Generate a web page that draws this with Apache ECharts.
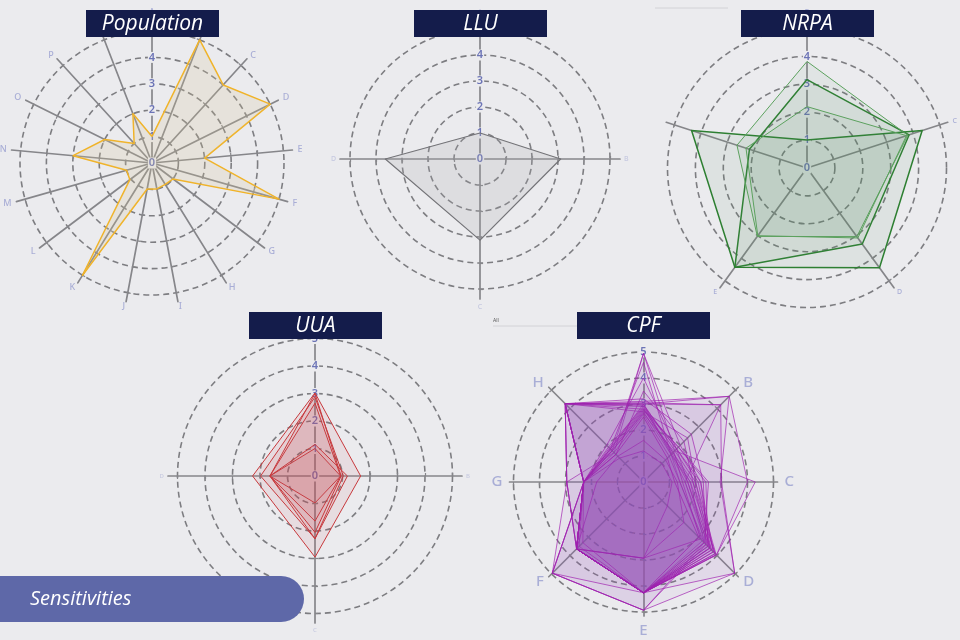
<!DOCTYPE html>
<html><head><meta charset="utf-8">
<script src="https://cdn.jsdelivr.net/npm/echarts@6/dist/echarts.min.js"></script>
<style>html,body{margin:0;padding:0;background:#ebebee;}#c{width:960px;height:640px;}</style>
</head><body><div id="c"></div><script>
// ---------- data ----------
const tickLabels = ['0', '1', '2', '3', '4', '5'];
const titles = ['Population', 'LLU', 'NRPA', 'UUA', 'CPF'];

const popAxes = ['A','B','C','D','E','F','G','H','I','J','K','L','M','N','O','P','Q'];
const popValues = [1, 5, 4, 5, 2, 5, 1, 0.95, 1, 1, 5, 1.05, 1, 3, 2, 1, 2];

const lluAxes = ['A', 'B', 'C', 'D'];
const lluValues = [1.0, 3.1, 3.12, 3.64];

const nrpaAxes = ['B', 'C', 'D', 'E', ''];
const nrpaDark1 = [3.17, 3.85, 3.37, 4.4, 2.17];
const nrpaDark2 = [1.0, 4.34, 4.42, 4.4, 4.35];
const nrpaLight1 = [3.82, 3.8, 3.04, 3.03, 2.64];
const nrpaLight2 = [2.2, 3.75, 3.1, 3.0, 2.3];

const uuaAxes = ['A', 'B', 'C', 'D'];
const uua1 = [3.02, 1.66, 2.95, 2.27];
const uua2 = [1.0, 0.93, 0.98, 1.64];
const uua3 = [2.87, 1.03, 2.28, 1.98];
const uua4 = [2.65, 0.93, 1.64, 1.64];
const uua5 = [1.15, 1.18, 2.28, 1.64];
const uua6 = [3.0, 0.95, 2.05, 1.64];

const cpfAxes = ['A', 'B', 'C', 'D', 'E', 'F', 'G', 'H'];
const cpfRuns = [
  [3.0, 4.66, 2.95, 4.96, 4.93, 4.96, 2.95, 4.26],
  [4.95, 1.7, 4.3, 3.97, 4.26, 3.64, 2.3, 1.7],
  [3.0, 4.2, 1.6, 3.4, 4.93, 4.96, 2.3, 4.26],
  [2.9, 1.6, 1.8, 3.9, 4.26, 3.64, 2.3, 4.26],
  [4.95, 2.0, 2.2, 3.6, 4.26, 3.64, 2.95, 1.6],
  [3.1, 4.66, 4.0, 3.97, 4.26, 3.64, 2.3, 4.26],
  [2.8, 1.9, 2.5, 3.3, 4.93, 4.96, 2.3, 4.26],
  [3.0, 1.5, 1.4, 3.2, 4.26, 3.64, 2.3, 4.26],
  [2.7, 2.4, 2.0, 3.7, 4.26, 3.64, 2.95, 4.26],
  [3.05, 4.2, 3.0, 4.96, 4.26, 3.64, 2.3, 4.26],
  [2.95, 1.8, 1.7, 3.5, 4.26, 4.96, 2.3, 4.26],
  [4.6, 1.5, 1.8, 3.3, 4.26, 3.64, 2.3, 1.8],
  [2.8, 1.6, 1.9, 3.9, 4.26, 3.64, 2.3, 1.8],
  [2.7, 1.5, 1.6, 3.6, 4.26, 3.64, 2.3, 1.7],
  [2.9, 1.8, 2.2, 3.8, 4.26, 3.64, 2.3, 1.9],
  [2.6, 1.4, 1.4, 3.3, 4.26, 3.5, 2.3, 1.6],
  [3.0, 1.7, 2.0, 3.95, 4.26, 3.64, 2.3, 1.8],
  [2.75, 1.9, 2.4, 3.5, 4.26, 3.64, 2.3, 1.75],
  [2.85, 1.55, 1.7, 3.7, 4.26, 3.3, 2.3, 1.85],
  [2.65, 1.65, 1.5, 3.1, 2.93, 3.64, 2.3, 1.7],
  [1.2, 1.0, 1.1, 1.3, 2.93, 3.64, 2.3, 1.3],
  [1.6, 1.2, 1.3, 2.2, 2.93, 3.64, 1.8, 1.4],
  [3.5, 2.2, 1.9, 3.6, 4.26, 3.64, 2.3, 1.5],
  [4.0, 1.8, 2.1, 3.8, 4.26, 3.64, 2.3, 2.0],
  [3.2, 2.6, 2.3, 3.4, 4.26, 3.64, 2.95, 4.26],
  [2.5, 1.3, 1.2, 3.0, 4.26, 3.64, 2.3, 1.5]
];

// ---------- helpers ----------
const BG = '#ebebee';
// ECharts lays indicators counter-clockwise; the reference runs clockwise from the top.
const cw = arr => [arr[0]].concat(arr.slice(1).reverse());

const radars = [];
const series = [];

function addChart(names, center, rData, rSpoke, nameSize, nameColor, nameGap, labelSize) {
  const ordered = cw(names);
  radars.push({
    center: center, radius: rSpoke, startAngle: 90, shape: 'circle', splitNumber: 5,
    indicator: ordered.map(n => ({ name: n, min: 0, max: 5 })),
    axisName: { show: true, color: nameColor, fontSize: nameSize, fontFamily: 'Noto Sans', fontWeight: 500 },
    nameGap: nameGap,
    axisLine: { show: true, lineStyle: { color: '#86868a', width: 1.7 } },
    axisTick: { show: false }, axisLabel: { show: false },
    splitLine: { show: false }, splitArea: { show: false }
  });
  radars.push({
    center: center, radius: rData, startAngle: 90, shape: 'circle', splitNumber: 5,
    indicator: ordered.map((n, i) => ({ name: n, min: 0, max: 5, axisLabel: { show: i === 0 } })),
    axisName: { show: false },
    axisLine: { show: false },
    axisTick: { show: true, length: 3, lineStyle: { color: '#86868a', width: 1.2 } },
    axisLabel: {
      show: true, margin: 0, align: 'center', verticalAlign: 'middle',
      color: '#6c74b6', fontSize: labelSize, fontWeight: 600, fontFamily: 'Noto Sans',
      backgroundColor: BG, padding: [0, 1],
      formatter: v => tickLabels[Math.round(v)]
    },
    splitLine: { show: true, lineStyle: { color: '#7d7d81', width: 1.6, type: [6, 4] } },
    splitArea: { show: false }
  });
  return radars.length - 1;
}

function addSeries(idx, list, lineColor, lineWidth, areaColor) {
  series.push({
    type: 'radar', radarIndex: idx, symbol: 'none', silent: true,
    lineStyle: { color: lineColor, width: lineWidth },
    areaStyle: { color: areaColor },
    data: list.map(v => ({ value: cw(v) }))
  });
}

const pIdx = addChart(popAxes, [152, 163], 132, 141, 9, '#a9aed6', 5, 11);
addSeries(pIdx, [popValues], '#f3b21f', 1.5, 'rgba(214,196,150,0.32)');

const lIdx = addChart(lluAxes, [480, 159], 130, 140, 7, '#c6c9e0', 4, 11);
addSeries(lIdx, [lluValues], '#6e6e72', 1.2, 'rgba(170,170,176,0.3)');

const nIdx = addChart(nrpaAxes, [807, 168], 139.5, 148, 7, '#a9aed6', 5, 11);
addSeries(nIdx, [nrpaDark1, nrpaDark2], '#2c7f30', 1.5, 'rgba(90,140,105,0.13)');
addSeries(nIdx, [nrpaLight1, nrpaLight2], '#5da35f', 1, 'rgba(90,140,105,0.1)');

const uIdx = addChart(uuaAxes, [315, 476], 137.5, 147, 6, '#c6c9e0', 4, 11);
addSeries(uIdx, [uua1, uua2, uua3, uua4, uua5, uua6], '#c8393c', 1, 'rgba(200,80,85,0.13)');

const cIdx = addChart(cpfAxes, [643.5, 482], 130, 134, 15, '#a9aed6', 7, 11);
addSeries(cIdx, cpfRuns, 'rgba(160,30,175,0.85)', 0.8, 'rgba(150,80,195,0.085)');

// ---------- decorations ----------
const boxes = [[86, 10], [414, 10], [741, 10], [249, 312], [577, 312]];
const graphic = [];
boxes.forEach((b, i) => {
  graphic.push({ type: 'rect', z: 100, shape: { x: b[0], y: b[1], width: 133, height: 27 }, style: { fill: '#141c4b' } });
  graphic.push({ type: 'text', z: 101, x: b[0] + 66.5, y: b[1] + 14,
    style: { text: titles[i], fill: '#ffffff', font: 'italic 21px "Open Sans"', align: 'center', verticalAlign: 'middle' } });
});
graphic.push({ type: 'line', z: 50, shape: { x1: 655, y1: 8, x2: 728, y2: 8 }, style: { stroke: '#d2d2d6', lineWidth: 1 } });
graphic.push({ type: 'line', z: 50, shape: { x1: 493, y1: 326, x2: 577, y2: 326 }, style: { stroke: '#d2d2d6', lineWidth: 1 } });
graphic.push({ type: 'text', z: 50, x: 493, y: 321, style: { text: 'All', fill: '#555', font: '5px "Noto Sans"', verticalAlign: 'middle' } });
graphic.push({ type: 'rect', z: 100, shape: { x: -30, y: 576, width: 334, height: 46, r: 23 }, style: { fill: '#5e68a8' } });
graphic.push({ type: 'text', z: 101, x: 30, y: 599,
  style: { text: 'Sensitivities', fill: '#ffffff', font: 'italic 20px "Open Sans"', verticalAlign: 'middle' } });

const chart = echarts.init(document.getElementById('c'), null, { renderer: 'canvas' });
chart.setOption({
  backgroundColor: BG,
  animation: false,
  radar: radars,
  series: series,
  graphic: graphic
});
</script></body></html>
